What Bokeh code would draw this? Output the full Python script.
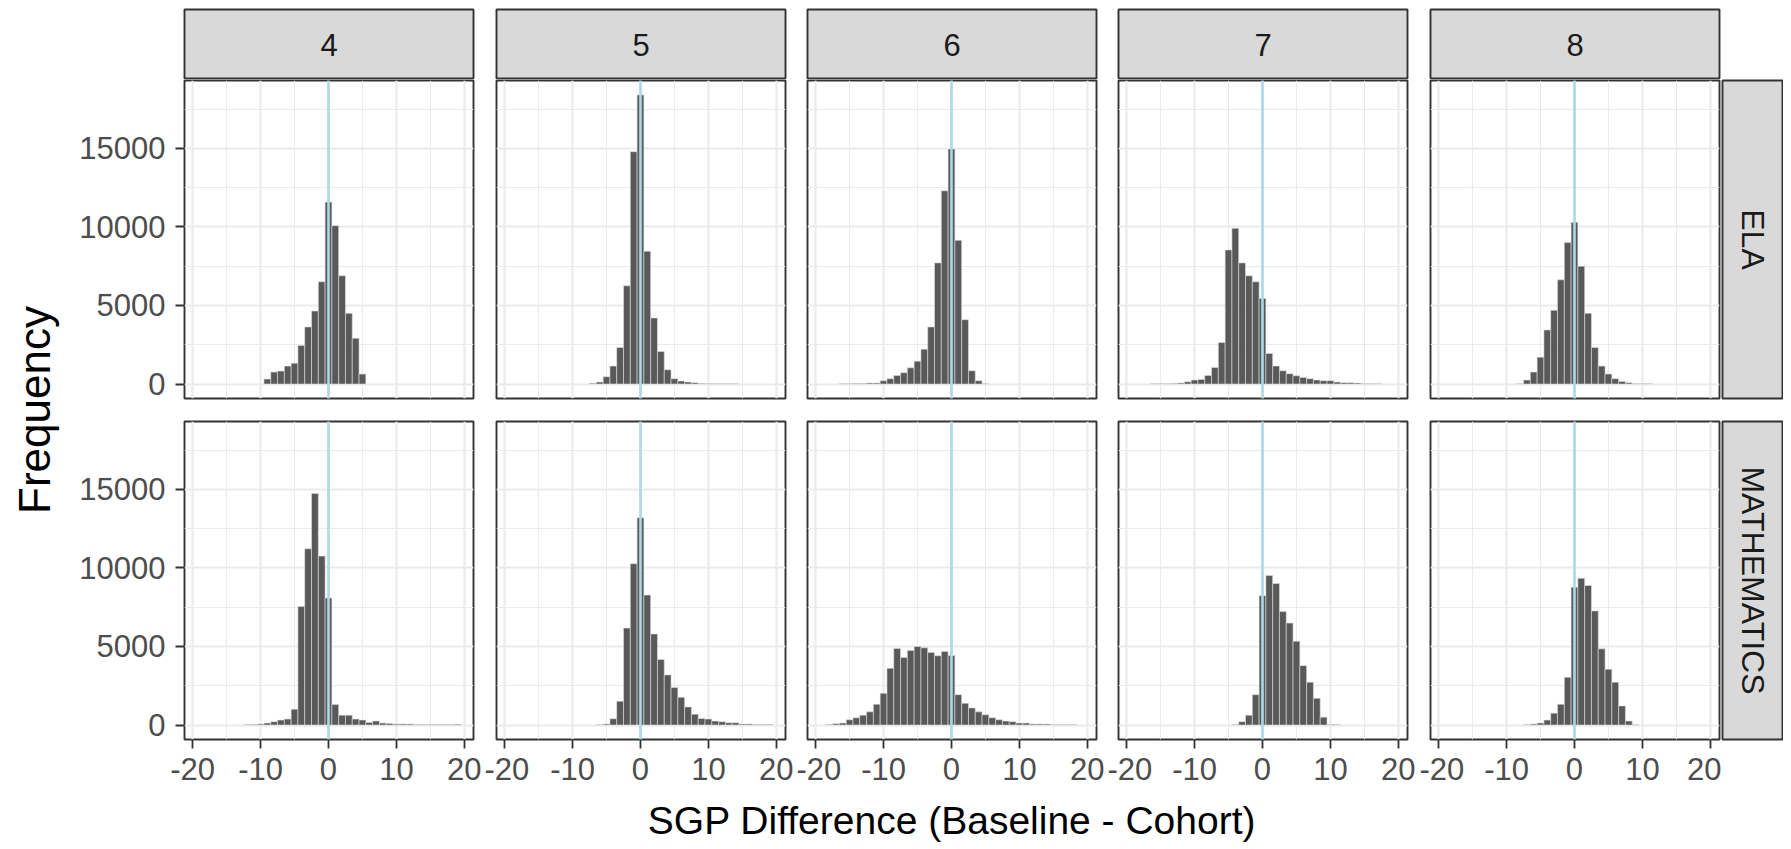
from bokeh.plotting import figure
from bokeh.layouts import row, column
from bokeh.models import Range1d, FixedTicker, Span, Spacer
from bokeh.core.properties import value
from bokeh.embed import file_html
from bokeh.resources import INLINE

FONT = "Liberation Sans"

grades = ["4", "5", "6", "7", "8"]
subjects = ["ELA", "MATHEMATICS"]
x_title = "SGP Difference (Baseline - Cohort)"
y_title = "Frequency"

x_ticks = [-20, -10, 0, 10, 20]
x_tick_labels = ["-20", "-10", "0", "10", "20"]
x_minor = [-15, -5, 5, 15]
y_ticks = [0, 5000, 10000, 15000]
y_tick_labels = ["0", "5000", "10000", "15000"]
y_minor = [2500, 7500, 12500, 17500]

# ---- histogram bins (centres) and counts ----
ela_4_bins = [-9, -8, -7, -6, -5, -4, -3, -2, -1, 0, 1, 2, 3, 4, 5]
ela_4_counts = [317, 760, 824, 1141, 1331, 2451, 3634, 4649, 6508, 11579, 10079, 6888, 4501, 2916, 634]

ela_5_bins = [-7, -6, -5, -4, -3, -2, -1, 0, 1, 2, 3, 4, 5, 6, 7, 8, 9, 10, 11, 12, 13, 14]
ela_5_counts = [50, 127, 465, 1141, 2324, 6254, 14791, 18404, 8452, 4205, 2071, 909, 338, 190, 127, 85, 42, 21, 20, 20, 20, 20]

ela_6_bins = [-16, -15, -14, -13, -12, -11, -10, -9, -8, -7, -6, -5, -4, -3, -2, -1, 0, 1, 2, 3, 4, 5]
ela_6_counts = [25, 25, 30, 40, 63, 63, 211, 338, 549, 718, 1035, 1458, 2219, 3634, 7712, 12298, 14960, 9149, 4099, 845, 211, 21]

ela_7_bins = [-16, -15, -14, -13, -12, -11, -10, -9, -8, -7, -6, -5, -4, -3, -2, -1, 0,
              1, 2, 3, 4, 5, 6, 7, 8, 9, 10, 11, 12, 13, 14, 15, 16, 17]
ela_7_counts = [20, 20, 25, 30, 63, 148, 254, 296, 549, 1057, 2641, 8537, 9910, 7712, 6888, 6508, 5452,
                1944, 1141, 845, 655, 528, 423, 338, 254, 211, 211, 127, 85, 85, 63, 21, 21, 21]

ela_8_bins = [-8, -7, -6, -5, -4, -3, -2, -1, 0, 1, 2, 3, 4, 5, 6, 7, 8, 9, 10, 11]
ela_8_counts = [21, 254, 760, 1711, 3444, 4691, 6635, 9002, 10290, 7501, 4501, 2324, 1141, 634, 338, 169, 85, 21, 21, 21]

math_4_bins = [-12, -11, -10, -9, -8, -7, -6, -5, -4, -3, -2, -1, 0, 1, 2, 3, 4, 5, 6, 7, 8, 9,
               10, 11, 12, 13, 14, 15, 16, 17, 18, 19]
math_4_counts = [20, 40, 60, 126, 210, 315, 378, 1008, 7539, 11214, 14742, 10752, 8085, 1302, 630, 630, 378,
                 315, 168, 252, 126, 105, 63, 63, 63, 42, 35, 35, 35, 35, 35, 50]

math_5_bins = [-6, -5, -4, -3, -2, -1, 0, 1, 2, 3, 4, 5, 6, 7, 8, 9, 10, 11, 12, 13, 14, 15, 16, 17, 18, 19]
math_5_counts = [15, 63, 399, 1512, 6174, 10269, 13188, 8274, 5796, 4179, 3192, 2394, 1764, 1155, 693, 420,
                 378, 252, 210, 147, 147, 63, 63, 40, 40, 40]

math_6_bins = [-18, -17, -16, -15, -14, -13, -12, -11, -10, -9, -8, -7, -6, -5, -4, -3, -2, -1, 0,
               1, 2, 3, 4, 5, 6, 7, 8, 9, 10, 11, 12, 13, 14, 15, 16, 17, 18]
math_6_counts = [42, 84, 126, 336, 462, 630, 840, 1323, 2016, 3612, 4872, 4305, 4746, 4998, 4914, 4620, 4410,
                 4683, 4431, 1932, 1386, 1092, 840, 651, 462, 336, 252, 210, 126, 126, 63, 63, 63, 21, 21, 21, 21]

math_7_bins = [-4, -3, -2, -1, 0, 1, 2, 3, 4, 5, 6, 7, 8, 9, 10, 11]
math_7_counts = [21, 210, 630, 1932, 8232, 9513, 9009, 7224, 6489, 5334, 3780, 2730, 1701, 504, 42, 21]

math_8_bins = [-7, -6, -5, -4, -3, -2, -1, 0, 1, 2, 3, 4, 5, 6, 7, 8, 9]
math_8_counts = [21, 63, 126, 315, 756, 1323, 3045, 8778, 9345, 8883, 7266, 4851, 3549, 2730, 1218, 252, 21]

data = {
    "ELA": [(ela_4_bins, ela_4_counts), (ela_5_bins, ela_5_counts), (ela_6_bins, ela_6_counts),
            (ela_7_bins, ela_7_counts), (ela_8_bins, ela_8_counts)],
    "MATHEMATICS": [(math_4_bins, math_4_counts), (math_5_bins, math_5_counts), (math_6_bins, math_6_counts),
                    (math_7_bins, math_7_counts), (math_8_bins, math_8_counts)],
}

# ---- layout geometry (pixels) ----
FRAME_W = 289
COL_W = [424, 312, 311, 312, 302]
COL_BL = [124, 12, 11, 11, 11]
RS_W = 62
YLAB_W = 60
TOP_H = 79
TOP_BT = 9
ROW1_H = 330
ROW2_H = 386
ROW2_BB = 56
XT_H = 53
FRAME_H = 318

X_RANGE = (-21.2, 21.35)
Y_RANGE = (-920, 19320)

TICK_FS = "31px"
STRIP_FS = "31px"
RSTRIP_FS = "32px"
XTITLE_FS = "39px"
YTITLE_FS = "44px"
BORDER_W = 1.9


def base_fig(width, height, bl, br, bt, bb, xloc=None, yloc=None, xr=(-1, 1), yr=(-1, 1)):
    p = figure(width=width, height=height, x_range=Range1d(*xr), y_range=Range1d(*yr),
               output_backend="svg", toolbar_location=None,
               x_axis_location=xloc, y_axis_location=yloc,
               min_border_left=bl, min_border_right=br, min_border_top=bt, min_border_bottom=bb)
    p.border_fill_color = "white"
    p.background_fill_color = "white"
    return p


def style_axis(ax, ticks, minor, labels):
    ax.ticker = FixedTicker(ticks=ticks, minor_ticks=minor)
    ax.major_label_overrides = {t: l for t, l in zip(ticks, labels)}
    ax.axis_line_color = None
    ax.major_tick_line_color = "#333333"
    ax.major_tick_line_width = 1.8
    ax.major_tick_out = 9
    ax.major_tick_in = 0
    ax.minor_tick_line_color = None
    ax.major_label_text_font = FONT
    ax.major_label_text_font_size = TICK_FS
    ax.major_label_text_color = "#4D4D4D"
    ax.major_label_standoff = 9


def panel(bins, counts, c, r):
    width = COL_W[c]
    bl = COL_BL[c]
    br = width - bl - FRAME_W
    if r == 0:
        height, bt, bb = ROW1_H, 1, ROW1_H - 1 - FRAME_H
    else:
        height, bt, bb = ROW2_H, ROW2_H - ROW2_BB - FRAME_H, ROW2_BB
    p = base_fig(width, height, bl, br, bt, bb,
                 xloc="below" if r == 1 else None,
                 yloc="left" if c == 0 else None,
                 xr=X_RANGE, yr=Y_RANGE)
    p.outline_line_color = "#333333"
    p.outline_line_width = BORDER_W
    p.xgrid.ticker = FixedTicker(ticks=x_ticks, minor_ticks=x_minor)
    p.ygrid.ticker = FixedTicker(ticks=y_ticks, minor_ticks=y_minor)
    for g in list(p.xgrid) + list(p.ygrid):
        g.grid_line_color = "#EBEBEB"
        g.grid_line_width = 2.2
        g.minor_grid_line_color = "#EBEBEB"
        g.minor_grid_line_width = 1.1
    p.vbar(x=bins, width=1, top=counts, bottom=0, fill_color="#595959",
           line_color="#DDDDDD", line_width=0.6)
    p.add_layout(Span(location=0, dimension="height", line_color="#ADD8E6", line_width=2.6))
    if r == 1:
        style_axis(p.xaxis[0], x_ticks, x_minor, x_tick_labels)
    if c == 0:
        style_axis(p.yaxis[0], y_ticks, y_minor, y_tick_labels)
        p.yaxis[0].major_label_standoff = 10
    return p


def strip(label, width, height, bl, br, bt, bb, angle=0.0, fs=STRIP_FS):
    s = base_fig(width, height, bl, br, bt, bb)
    s.grid.visible = False
    s.background_fill_color = "#D9D9D9"
    s.outline_line_color = "#333333"
    s.outline_line_width = BORDER_W
    s.text(x=[0], y=[0], text=[label], angle=angle, text_align="center", text_baseline="middle",
           text_font=value(FONT), text_font_size=fs, text_color="#1A1A1A")
    return s


# top strips
top_children = []
for c, g in enumerate(grades):
    bl = COL_BL[c]
    br = COL_W[c] - bl - FRAME_W
    top_children.append(strip(g, COL_W[c], TOP_H, bl, br, TOP_BT, 0))
top_children.append(Spacer(width=RS_W, height=TOP_H))
top_row = row(*top_children, spacing=0)

rows = []
for r, subj in enumerate(subjects):
    children = [panel(b, cnt, c, r) for c, (b, cnt) in enumerate(data[subj])]
    if r == 0:
        rs = strip(subj, RS_W, ROW1_H, 1, 1, 1, ROW1_H - 1 - FRAME_H, angle=-1.5707963, fs=RSTRIP_FS)
    else:
        rs = strip(subj, RS_W, ROW2_H, 1, 1, ROW2_H - ROW2_BB - FRAME_H, ROW2_BB, angle=-1.5707963, fs=RSTRIP_FS)
    children.append(rs)
    rows.append(row(*children, spacing=0))

# x title, centred over the panel area
total_w = sum(COL_W) + RS_W
panels_right = sum(COL_W[:4]) + COL_BL[4] + FRAME_W
xt = base_fig(total_w, XT_H, COL_BL[0], total_w - panels_right, 0, 0, xr=(0, 1), yr=(0, 1))
xt.grid.visible = False
xt.outline_line_color = None
xt.text(x=[0.5], y=[0.53], text=[x_title], text_align="center", text_baseline="middle",
        text_font=value(FONT), text_font_size=XTITLE_FS, text_color="#000000")

# y title, centred over the panel rows
total_h = TOP_H + ROW1_H + ROW2_H + XT_H
yl = base_fig(YLAB_W, total_h, 0, 0, TOP_H + 1, ROW2_BB + XT_H, xr=(0, 1), yr=(0, 1))
yl.grid.visible = False
yl.outline_line_color = None
yl.text(x=[0.57], y=[0.5], text=[y_title], angle=1.5707963, text_align="center", text_baseline="middle",
        text_font=value(FONT), text_font_size=YTITLE_FS, text_color="#000000")

layout = row(yl, column(top_row, rows[0], rows[1], xt, spacing=0), spacing=0)

open("out.html", "w").write(file_html(layout, INLINE))
